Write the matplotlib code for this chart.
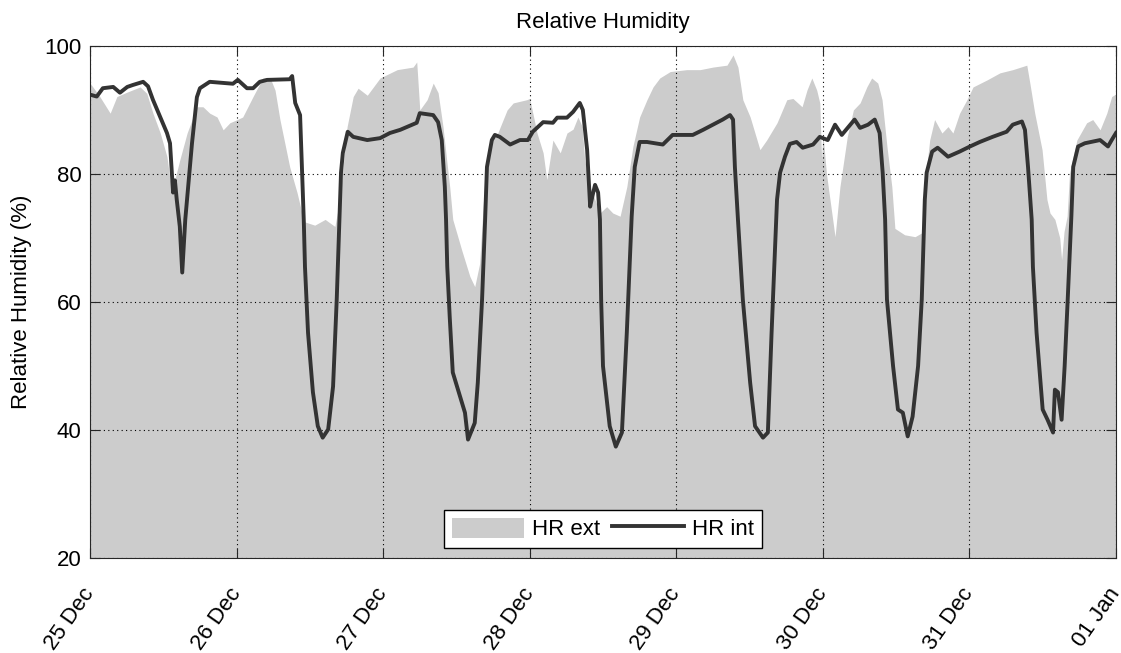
import matplotlib
matplotlib.use("Agg")
import matplotlib.pyplot as plt
from matplotlib.patches import Patch
from matplotlib.lines import Line2D

plt.rcParams["font.family"] = ["Liberation Sans", "DejaVu Sans"]
plt.rcParams["font.size"] = 16

# hours since 25 Dec 00:00
ext_hours = [
    0.0, 1.6, 3.3, 4.4, 6.1, 8.2, 9.3, 10.3, 11.5, 12.6, 13.1, 13.6, 14.7, 15.9,
    17.5, 18.5, 19.6, 20.8, 21.8, 22.9, 24.1, 25.0, 26.7, 28.3, 29.5, 30.3, 31.1,
    31.9, 32.7, 33.9, 34.7, 35.2, 36.8, 38.5, 40.1, 40.9, 42.1, 43.1, 43.9, 45.4,
    47.5, 50.3, 52.9, 53.5, 54.0, 55.2, 56.2, 57.0, 57.8, 58.4, 58.9, 59.4, 60.9,
    62.2, 63.0, 63.8, 64.7, 65.5, 66.6, 68.3, 69.3, 71.5, 72.0, 73.2, 74.2, 74.8,
    75.8, 77.0, 78.1, 79.1, 79.9, 80.6, 81.0, 81.9, 83.5, 84.6, 85.6, 86.8, 87.9,
    88.9, 90.0, 91.2, 92.2, 93.3, 95.0, 97.7, 99.9, 102.0, 104.3, 105.3, 106.1,
    106.9, 108.1, 109.7, 110.8, 112.5, 114.1, 115.1, 116.6, 117.4, 118.2, 119.0,
    119.5, 119.8, 120.0, 120.6, 122.0, 122.8, 124.0, 125.0, 126.1, 127.2, 128.0,
    129.0, 129.7, 130.5, 131.3, 131.8, 133.4, 135.1, 136.2, 137.0, 137.5, 138.3,
    139.5, 140.5, 141.3, 142.4, 143.6, 144.6, 146.9, 149.0, 151.1, 153.4, 153.9,
    154.7, 155.9, 156.7, 157.2, 158.0, 158.8, 159.1, 159.5, 160.0, 160.4, 161.6,
    163.2, 164.2, 165.4, 166.5, 167.3, 168.0,
]
ext_rh = [
    94.2, 92.1, 89.5, 92.1, 92.8, 93.6, 92.6, 89.5, 86.4, 82.7, 79.1, 78.0, 82.2, 86.4,
    90.5, 90.5, 89.5, 88.9, 86.9, 88.0, 88.5, 88.9, 92.1, 95.0, 95.0, 93.1, 88.5,
    84.8, 81.1, 77.1, 73.9, 72.5, 72.0, 72.9, 71.8, 76.0, 87.4, 92.1, 93.4, 92.3,
    95.0, 96.3, 96.7, 97.5, 90.0, 91.6, 94.2, 92.7, 87.4, 82.2, 78.0, 72.9, 68.0,
    64.0, 62.4, 66.0, 80.0, 85.0, 86.0, 90.0, 91.1, 91.6, 91.8, 86.4, 83.3, 79.1,
    85.3, 83.3, 86.4, 87.0, 88.9, 87.4, 82.2, 78.0, 73.9, 74.9, 73.9, 73.4, 78.0,
    84.3, 88.9, 91.6, 93.6, 95.0, 96.0, 96.3, 96.3, 96.7, 97.0, 98.6, 96.7,
    91.6, 88.9, 83.8, 85.3, 88.0, 91.6, 91.8, 90.5, 93.1, 95.0, 93.1,
    91.1, 82.2, 86.4, 80.0, 70.2, 78.0, 85.8, 90.0, 91.1, 93.6, 95.0,
    94.2, 91.6, 84.3, 78.0, 71.5, 70.5, 70.2, 70.8, 81.1, 85.3, 88.5,
    86.4, 87.4, 86.4, 89.5, 91.6, 93.6, 94.7, 95.8, 96.3, 97.0, 94.2,
    89.5, 83.8, 76.0, 73.9, 72.9, 70.0, 66.6, 71.0, 73.4, 80.2, 85.3,
    88.0, 88.5, 86.9, 89.5, 92.1, 92.5,
]

int_hours = [
    0.0, 1.1, 2.1, 3.8, 4.9, 6.1, 7.0, 8.7, 9.5, 10.3, 11.5, 12.6, 13.1, 13.4, 13.6,
    13.9, 14.2, 14.7, 15.1, 15.6, 16.7, 17.5, 18.0, 19.6, 23.4, 24.2, 25.7, 26.7,
    27.8, 29.0, 32.7, 33.1, 33.6, 34.4, 34.7, 35.0, 35.2, 35.7, 36.5, 37.3, 38.1,
    39.0, 39.8, 40.4, 40.9, 41.1, 41.4, 42.2, 43.1, 45.4, 47.5, 49.1, 50.8, 53.5,
    54.0, 56.2, 57.0, 57.6, 58.1, 58.3, 58.5, 58.9, 59.4, 60.6, 61.4, 61.9, 63.0,
    63.5, 64.2, 64.7, 65.0, 65.8, 66.3, 67.1, 68.8, 70.4, 71.7, 72.5, 74.2, 75.8,
    76.5, 78.1, 79.1, 80.2, 80.7, 81.4, 81.9, 82.4, 82.7, 83.2, 83.5, 83.7, 84.0,
    85.1, 86.1, 87.1, 87.9, 88.7, 89.2, 90.0, 91.2, 93.8, 95.4, 98.7, 100.4,
    102.0, 103.6, 104.8, 105.3, 105.6, 106.1, 106.9, 108.1, 108.9, 110.2, 111.0,
    111.6, 111.9, 112.5, 113.0, 113.8, 114.6, 115.7, 116.7, 118.4, 119.5, 120.8,
    122.0, 123.1, 125.2, 126.1, 127.4, 128.5, 129.3, 129.8, 130.2, 130.5, 131.5,
    132.3, 133.1, 133.9, 134.7, 135.6, 136.2, 136.7, 137.0, 137.9, 138.8, 140.5,
    142.4, 144.1, 145.7, 147.8, 150.1, 151.1, 152.6, 153.1, 153.6, 154.2, 154.4,
    155.0, 156.0, 156.8, 157.7, 158.0, 158.5, 159.1, 159.6, 160.1, 160.7, 161.0,
    161.8, 162.9, 165.4, 166.7, 167.3, 168.0,
]
int_rh = [
    92.4, 92.1, 93.4, 93.6, 92.7, 93.6, 93.9, 94.4, 93.7, 91.6, 88.9, 86.4, 84.8, 80.2, 77.1,
    79.0, 76.0, 71.8, 64.6, 72.9, 84.8, 92.0, 93.4, 94.4, 94.1, 94.7, 93.4, 93.4,
    94.4, 94.7, 94.8, 95.3, 91.1, 89.2, 81.1, 72.9, 65.5, 55.2, 45.9, 40.6, 38.8,
    40.1, 46.8, 60.4, 74.4, 80.2, 83.3, 86.6, 85.8, 85.3, 85.6, 86.4, 86.9, 88.0,
    89.5, 89.2, 88.1, 85.3, 78.0, 72.9, 65.5, 57.7, 49.0, 45.2, 42.7, 38.5, 41.1,
    47.4, 60.4, 72.9, 81.1, 85.3, 86.1, 85.8, 84.6, 85.3, 85.3, 86.6, 88.1, 88.0,
    88.8, 88.8, 89.7, 91.1, 90.0, 83.8, 74.9, 77.1, 78.3, 77.1, 72.9, 60.4, 50.0,
    40.6, 37.4, 39.6, 55.2, 73.4, 81.1, 85.0, 85.0, 84.6, 86.1, 86.1, 86.9,
    87.7, 88.5, 89.2, 88.5, 81.1, 72.9, 60.4, 47.4, 40.6, 38.8, 39.6,
    55.0, 62.0, 76.0, 80.2, 82.7, 84.7, 85.0, 84.1, 84.6, 85.8, 85.3,
    87.7, 86.1, 88.5, 87.2, 87.7, 88.5, 86.4, 80.2, 72.9, 60.4, 50.0,
    43.2, 42.7, 39.0, 42.1, 50.0, 60.4, 76.0, 80.2, 83.5, 84.1, 82.7,
    83.5, 84.3, 85.0, 85.8, 86.6, 87.7, 88.2, 86.9, 81.1, 72.9, 65.5,
    55.2, 43.2, 41.6, 39.6, 46.3, 45.9, 41.6, 50.0, 60.4, 73.4, 81.1,
    84.3, 84.8, 85.3, 84.3, 85.3, 86.4,
]

day_ticks = [0, 24, 48, 72, 96, 120, 144, 168]
day_labels = ["25 Dec", "26 Dec", "27 Dec", "28 Dec", "29 Dec", "30 Dec", "31 Dec", "01 Jan"]

EXT_COLOR = "#cccccc"
INT_COLOR = "#333333"

fig = plt.figure(figsize=(11.21, 6.53), dpi=100)
ax = fig.add_axes([0.0803, 0.1455, 0.9152, 0.7841])

ax.fill_between(ext_hours, 0, ext_rh, color=EXT_COLOR, linewidth=0)
ax.plot(int_hours, int_rh, color=INT_COLOR, linewidth=2.8)

ax.set_xlim(0, 168)
ax.set_ylim(20, 100)
ax.set_yticks([20, 40, 60, 80, 100])
ax.set_xticks(day_ticks)
ax.set_xticklabels(day_labels, rotation=55, ha="right", va="center",
                   rotation_mode="anchor")

ax.grid(True, color="black", linestyle=(0, (1, 3)), linewidth=0.8)
ax.tick_params(direction="in", length=7.5, width=0.8, top=True, right=True,
               color="#262626")
ax.tick_params(axis="x", pad=23)
ax.tick_params(axis="y", pad=6)
for s in ax.spines.values():
    s.set_color("#262626")
    s.set_linewidth(0.8)

ax.set_title("Relative Humidity", fontsize=16, pad=13)
ax.set_ylabel("Relative Humidity (%)", labelpad=9)

handles = [
    Patch(facecolor=EXT_COLOR, edgecolor="none"),
    Line2D([], [], color=INT_COLOR, linewidth=2.8),
]
ax.legend(handles, ["HR ext", "HR int"], loc="lower center", ncol=2,
          fancybox=False, framealpha=1, edgecolor="black",
          handlelength=3.25, handleheight=1.0, handletextpad=0.35,
          columnspacing=0.55, borderaxespad=0.45, borderpad=0.35)

fig.savefig("out.png", dpi=100)
